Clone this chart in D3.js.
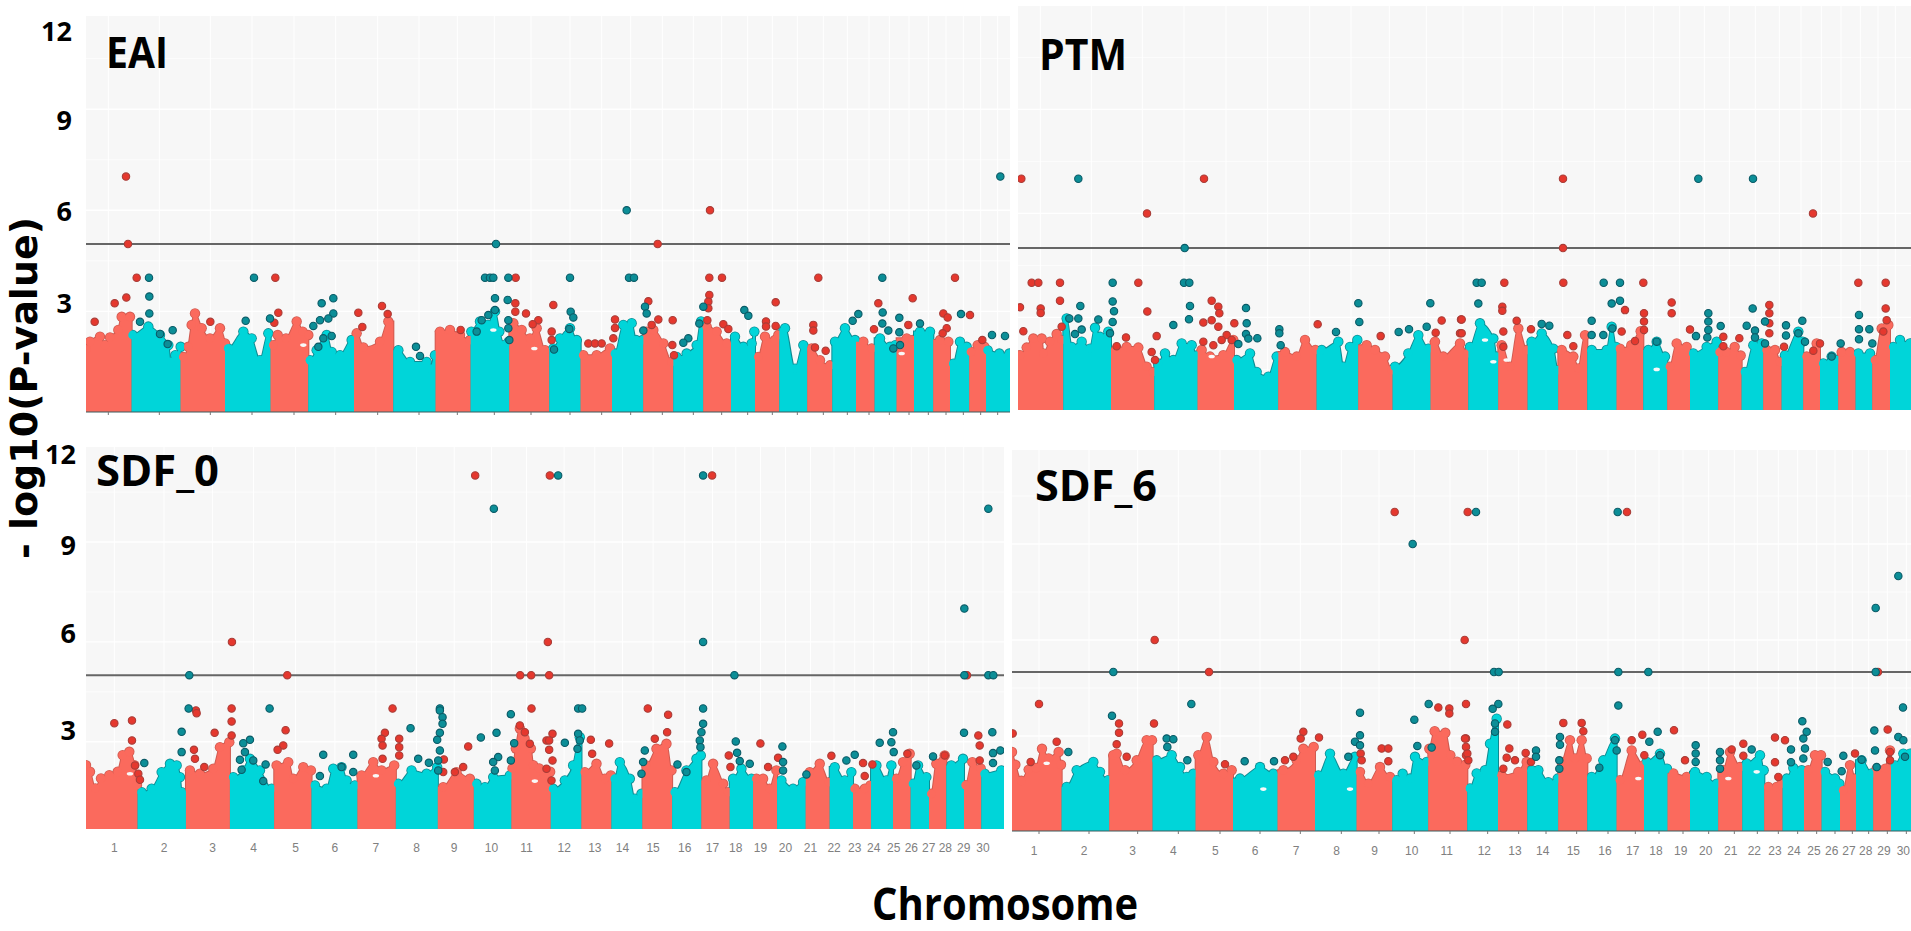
<!DOCTYPE html>
<html><head><meta charset="utf-8">
<script src="https://cdn.jsdelivr.net/npm/d3@7/dist/d3.min.js"></script>
<style>html,body{margin:0;padding:0;background:#fff;overflow:hidden}svg{display:block}</style>
</head><body><svg id="c" width="1911" height="931"></svg>
<script>
const chromLabels = d3.range(1,31).map(String);
const yTickLabels = ["3","6","9","12"];
const gridValues = [1.5,3,4.5,6,7.5,9,10.5,12];
const threshold = [5];

// ---------- EAI ----------
const eaiBounds = [0,137,284,417,554,667,804,922,1049,1154,1270,1390,1484,1578,1672,1762,1852,1935,2007,2080,2164,2239,2310,2366,2432,2484,2542,2592,2650,2700,2772];
const eaiTicks = [67,220,373,498,624,749,875,999,1114,1225,1335,1452,1547,1634,1729,1822,1907,1985,2059,2134,2212,2284,2349,2410,2469,2527,2580,2632,2684,2735];
const eaiProfile = [
[[0,1.87],[12,2.1],[42,2.25],[57,2.0],[72,2.23],[97,2.45],[107,2.84],[132,2.84]],
[[140,2.3],[187,2.55],[222,2.3],[247,2.0],[254,1.5],[268,1.7],[284,1.95]],
[[292,1.65],[307,1.95],[317,2.6],[327,2.94],[347,2.5],[372,2.2],[402,2.5],[417,2.05]],
[[427,1.9],[472,2.4],[497,2.2],[522,1.55],[547,2.35]],
[[562,2.0],[575,2.3],[600,2.2],[632,2.7],[650,2.4],[667,2.3]],
[[672,1.55],[692,1.85],[722,2.3],[737,1.8],[762,1.7],[797,2.15]],
[[812,2.35],[832,1.93],[882,2.1],[907,2.7]],
[[937,1.85],[972,1.5],[1022,1.5],[1032,1.3],[1047,1.7]],
[[1062,2.4],[1092,2.45],[1122,2.3],[1152,2.15]],
[[1156,2.4],[1182,2.7],[1205,2.6],[1227,3.0],[1240,2.4],[1255,2.0],[1268,2.1]],
[[1282,2.65],[1307,2.45],[1332,2.2],[1352,2.5],[1377,1.85]],
[[1402,1.9],[1422,2.2],[1452,2.5],[1472,2.15]],
[[1492,1.7],[1532,1.7],[1572,1.9]],
[[1587,1.75],[1612,2.6],[1637,2.65],[1650,2.15],[1670,2.15]],
[[1682,2.4],[1702,2.45],[1732,2.05],[1757,1.5]],
[[1772,1.65],[1802,1.75],[1832,2.0],[1845,2.7]],
[[1862,2.55],[1892,2.4],[1922,2.05]],
[[1947,2.25],[1972,1.95],[1997,2.05],[2005,2.4]],
[[2017,1.65],[2037,2.25],[2067,2.15],[2077,2.3]],
[[2097,2.5],[2127,1.3],[2152,2.0]],
[[2177,1.9],[2202,1.55],[2232,1.4]],
[[2247,2.1],[2277,2.5],[2307,2.15]],
[[2332,2.1],[2357,1.9]],
[[2382,2.2],[2412,1.95],[2428,2.0]],
[[2462,2.2],[2480,2.15]],
[[2502,2.4],[2532,2.4]],
[[2562,2.15],[2587,2.1]],
[[2602,1.45],[2622,2.1],[2642,1.95]],
[[2655,1.8],[2675,2.0],[2695,1.95]],
[[2705,1.85],[2740,1.75],[2770,1.75]]];
const eaiRed = [[120,7],[126,5],[1872,6],[1715,5],[152,4],[568,4],[1289,4],[1870,4],[1908,4],[2197,4],[2607,4],
[26,2.69],[86,3.24],[121,3.41],[373,2.69],[577,2.96],[565,2.66],[817,2.96],[829,2.54],[888,3.16],[905,2.92],
[1124,2.45],[1288,3.24],[1288,2.99],[1320,2.94],[1357,2.74],[1340,2.62],[1402,3.19],[1397,2.4],[1397,2.15],[1507,2.05],[1527,2.05],[1547,2.05],[1587,2.76],[1587,2.51],[1582,2.2],[1687,3.3],[1717,2.76],[1697,2.6],[1760,2.74],[1759,2.0],[1764,1.7],[1870,3.49],[1867,3.29],[1867,3.09],[1864,2.74],[1912,2.62],[1927,2.48],[2069,3.27],[2040,2.7],[2040,2.55],[2069,2.57],[2182,2.6],[2182,2.43],[2187,1.93],[2219,1.83],[2480,3.39],[2377,3.24],[2467,2.6],[2364,2.47],[2572,2.94],[2585,2.82],[2582,2.5],[2570,2.35],[2652,2.89],[2689,2.15]];
const eaiTeal = [[2743,7],[1622,6],[1230,5],[189,4],[504,4],[1197,4],[1212,4],[1222,4],[1267,4],[1452,4],[1629,4],[1644,4],[2389,4],
[190,3.44],[190,2.94],[162,2.69],[260,2.44],[245,2.03],[222,2.33],[479,2.72],[552,2.79],[707,3.24],[742,3.39],[742,2.94],[727,2.79],[702,2.74],[682,2.57],[737,2.27],[712,2.2],[697,1.95],[990,1.95],[1002,1.68],
[1227,3.39],[1265,3.34],[1227,3.04],[1207,2.89],[1187,2.74],[1172,2.4],[1267,2.74],[1267,2.5],[1270,2.15],[1454,2.99],[1462,2.82],[1450,2.48],[1404,1.87],[1677,3.14],[1682,2.94],[1672,2.43],[1807,2.2],[1792,2.07],[1840,2.64],[1852,3.14],[1975,3.04],[1987,2.87],[2317,2.92],[2300,2.72],[2390,2.97],[2389,2.64],[2407,2.43],[2440,2.81],[2440,2.38],[2502,2.64],[2625,2.92],[2442,2.0],[2422,1.9],[2718,2.3],[2757,2.27]];
const eaiGaps = [[652,2.0],[1222,2.45],[1345,1.9],[2447,1.75]];

// ---------- PTM ----------
const ptmBounds = [0,136,279,409,539,648,781,896,1021,1124,1238,1351,1441,1529,1621,1708,1796,1876,1948,2016,2101,2171,2236,2291,2356,2406,2461,2513,2563,2616,2679];
const ptmProfile = [
[[6,1.91],[26,2.13],[46,2.39],[71,2.39],[76,1.96],[96,2.3],[116,2.52],[131,2.35]],
[[146,2.97],[161,2.15],[191,2.3],[216,2.1],[231,2.7],[246,2.44],[271,2.59]],
[[296,2.1],[326,2.15],[361,2.13],[386,1.58],[405,1.43]],
[[421,1.67],[441,1.96],[466,1.77],[491,2.25],[521,2.2],[536,1.9]],
[[551,2.06],[576,1.87],[616,1.91],[646,2.35]],
[[656,1.77],[696,1.96],[716,1.43],[751,1.29],[776,1.87]],
[[801,2.0],[836,1.87],[861,2.35],[892,2.06]],
[[911,2.06],[961,2.3],[976,1.58],[996,2.15],[1018,2.35]],
[[1046,2.2],[1071,2.06],[1101,1.87],[1121,1.48]],
[[1131,1.58],[1171,1.96],[1201,2.49],[1231,2.1]],
[[1251,2.3],[1276,1.87],[1326,2.25],[1349,1.96]],
[[1356,2.15],[1386,2.83],[1426,2.39],[1436,1.87]],
[[1451,2.2],[1476,1.58],[1501,2.68],[1526,2.06]],
[[1541,2.3],[1571,2.54],[1606,2.1],[1619,1.48]],
[[1631,2.06],[1666,1.87],[1681,1.53],[1701,2.49]],
[[1721,2.06],[1766,2.06],[1781,2.73],[1794,2.15]],
[[1806,2.1],[1840,2.2],[1868,2.6]],
[[1891,2.06],[1916,2.3],[1941,1.87]],
[[1956,1.58],[1976,2.25],[2006,2.15]],
[[2026,1.96],[2066,2.15],[2096,2.3]],
[[2105,2.0],[2125,2.0],[2150,2.15],[2168,1.9]],
[[2181,1.43],[2206,2.2],[2231,2.25]],
[[2246,2.06],[2271,2.06],[2286,1.72]],
[[2301,1.91],[2341,2.59],[2354,2.3]],
[[2366,1.87],[2396,2.25]],
[[2416,1.67],[2441,1.87],[2456,1.77]],
[[2471,2.0],[2496,2.0]],
[[2521,1.96],[2556,1.96]],
[[2571,1.77],[2591,2.68],[2611,2.78]],
[[2626,2.15],[2646,2.35],[2676,2.25]]];
const ptmRed = [[10,7],[558,7],[1635,7],[387,6],[2385,6],[1635,5],[41,4],[61,4],[126,4],[361,4],[1459,4],[1636,4],[1876,4],[2521,4],[2603,4],
[6,3.29],[68,3.26],[68,3.13],[126,3.48],[16,2.6],[131,2.73],[388,3.17],[416,2.46],[324,2.42],[581,3.48],[601,3.31],[604,3.12],[556,2.85],[581,2.92],[601,2.73],[626,2.49],[556,2.3],[586,2.2],[611,2.35],[641,2.35],[649,2.83],[401,2.0],[411,1.77],[899,2.8],[1088,2.46],[1271,2.91],[1329,2.94],[1253,2.56],[1326,2.54],[296,2.17],
[1331,2.94],[1331,2.54],[1453,3.31],[1453,3.19],[1496,2.9],[1539,2.66],[1456,2.59],[1456,2.15],[1648,2.49],[1666,2.17],[1821,3.21],[1811,2.59],[1851,2.32],[1878,3.12],[1878,2.88],[1878,2.64],[1961,3.43],[1961,3.12],[2016,2.65],[2116,2.44],[2116,2.17],[2164,2.4],[2254,3.36],[2254,3.12],[2254,2.83],[2254,2.54],[2298,2.15],[2406,2.25],[2386,2.04],[2603,3.26],[2606,2.92],[2596,2.59]];
const ptmTeal = [[181,7],[2041,7],[2205,7],[500,5],[284,4],[498,4],[514,4],[1376,4],[1391,4],[1757,4],[1806,4],
[187,3.33],[181,2.97],[154,2.97],[191,2.65],[171,2.52],[241,2.94],[284,3.46],[288,3.18],[284,2.87],[276,2.54],[466,2.78],[516,3.33],[513,2.95],[684,3.27],[686,2.83],[684,2.52],[691,2.39],[718,2.4],[661,2.23],[784,2.66],[784,2.54],[788,2.2],[954,2.58],[1021,3.41],[1024,2.87],[1142,2.58],[1173,2.66],[1237,3.41],[1226,2.73],
[1381,3.4],[1571,2.81],[1594,2.76],[1721,2.9],[1721,2.49],[1756,2.49],[1783,2.68],[1781,3.4],[1806,3.48],[1916,2.3],[2071,3.12],[2071,2.88],[2071,2.64],[2068,2.42],[2034,2.46],[2108,2.75],[2204,3.26],[2186,2.76],[2211,2.62],[2211,2.42],[2241,2.88],[2241,2.25],[2304,2.77],[2304,2.48],[2353,2.9],[2341,2.54],[2361,2.3],[2468,2.25],[2441,1.87],[2523,3.07],[2523,2.66],[2523,2.37],[2554,2.66],[2563,2.25]];
const ptmGaps = [[1426,1.72],[1401,2.35],[1466,1.77],[581,1.87],[1916,1.5]];

// ---------- SDF_0 ----------
const sdf0Bounds = [0,155,300,432,565,677,815,930,1056,1164,1277,1395,1487,1577,1670,1759,1847,1932,2002,2074,2160,2232,2302,2356,2422,2475,2530,2582,2635,2687,2755];
const sdf0LabelPos = [85,234,380,503,629,747,870,992,1105,1217,1322,1435,1527,1610,1702,1797,1880,1950,2024,2099,2174,2245,2307,2364,2424,2477,2529,2579,2634,2692];
const sdf0Profile = [
[[0,2.3],[12,2.1],[28,1.6],[45,1.9],[70,2.0],[95,2.1],[110,2.6],[130,2.7],[145,2.3],[153,1.7]],
[[167,1.49],[197,1.59],[227,2.09],[252,2.34],[272,2.29],[282,1.94],[287,1.49]],
[[312,2.14],[342,2.04],[382,2.19],[402,2.84],[430,2.99]],
[[442,1.94],[472,2.14],[492,2.49],[522,2.14],[557,1.59]],
[[572,2.29],[607,2.39],[622,1.89],[652,2.24],[675,2.14]],
[[687,1.69],[722,1.59],[742,2.19],[767,2.24],[782,1.84],[807,1.69]],
[[827,1.99],[862,2.39],[887,2.14],[925,2.29]],
[[937,1.74],[977,2.14],[1022,2.04],[1054,2.24]],
[[1072,1.64],[1112,2.09],[1152,1.89]],
[[1172,1.74],[1197,1.64],[1222,1.94],[1272,1.99]],
[[1280,2.2],[1290,2.8],[1302,3.4],[1316,3.1],[1335,2.8],[1342,2.3],[1360,2.2],[1375,2.0],[1393,2.1]],
[[1402,1.59],[1437,1.84],[1462,2.29],[1482,3.14]],
[[1497,2.09],[1532,2.34],[1557,1.89],[1575,1.99]],
[[1587,1.89],[1602,2.39],[1632,1.89],[1647,1.29],[1667,1.44]],
[[1682,2.29],[1712,2.79],[1742,2.94],[1757,2.14]],
[[1767,1.49],[1802,2.14],[1832,2.49],[1845,2.59]],
[[1862,1.84],[1882,2.34],[1912,1.74],[1927,1.49]],
[[1942,1.89],[1967,2.19],[1997,1.89]],
[[2012,1.89],[2032,1.89],[2052,1.59],[2072,2.14]],
[[2087,1.84],[2122,1.59],[2152,1.79]],
[[2172,2.09],[2202,2.34],[2230,1.79]],
[[2247,2.24],[2277,1.84],[2297,2.09]],
[[2307,1.59],[2337,1.59],[2354,1.69]],
[[2372,2.29],[2402,1.84],[2417,2.29]],
[[2432,1.89],[2452,2.39],[2472,2.64]],
[[2482,1.74],[2497,2.29],[2522,1.94]],
[[2537,1.44],[2552,2.34],[2577,2.59]],
[[2597,2.29],[2632,2.49]],
[[2640,1.7],[2660,2.39],[2685,2.2]],
[[2697,2.04],[2747,2.14]]];
const sdf0Red = [[1168,11],[1392,11],[1879,11],[438,6],[1386,6],[604,5],[1303,5],[1336,5],[1390,5],[2644,5],[330,3.94],[437,4],[920,4],[1337,4],[1686,4],[1747,3.81],
[85,3.56],[138,3.64],[138,3.04],[147,2.29],[157,2.04],[162,1.86],[332,3.86],[437,3.61],[437,3.19],[386,3.27],[355,2.24],[324,2.76],[327,2.49],[599,3.35],[592,2.89],[575,2.76],[897,3.27],[887,3.09],[890,2.89],[890,2.49],[940,3.09],[940,2.84],[940,2.59],[1147,2.86],[1132,2.24],[1107,2.09],[1074,2.47],[1072,2.09],[1302,3.49],[1317,3.29],[1332,2.94],[1382,3.04],
[1400,3.24],[1390,3.04],[1390,2.76],[1400,2.44],[1382,2.19],[1397,1.84],[1515,3.06],[1519,2.64],[1570,2.95],[1707,3.09],[1744,3.29],[1929,2.59],[1934,2.24],[2024,2.95],[2047,2.24],[2077,2.52],[2237,2.58],[2332,2.36],[2337,1.97],[2360,2.32],[2465,2.64],[2577,2.59],[2678,3.19],[2682,2.89],[2682,2.44]];
const sdf0Teal = [[1417,11],[1852,11],[1224,10],[2708,10],[2636,7],[1852,6],[310,5],[1946,5],[2636,5],[2708,5],[2723,5],[308,4],[551,4],[1062,4],[1477,4],[1489,4],[1852,4],
[287,3.3],[287,2.69],[175,2.36],[492,3.06],[472,2.96],[477,2.69],[502,2.44],[462,2.46],[467,2.16],[539,2.32],[532,1.82],[712,2.61],[802,2.61],[702,1.97],[802,2.09],[767,2.24],[974,3.41],[997,2.49],[1029,2.37],[1062,3.94],[1070,3.74],[1070,3.54],[1062,3.27],[1054,3.06],[1062,2.74],[1057,2.44],[1057,2.14],[1185,3.13],[1232,3.27],[1237,2.54],[1222,2.39],[1227,2.14],[1275,3.83],[1285,2.96],[1275,2.44],
[1437,2.97],[1477,3.24],[1482,3.04],[1475,2.79],[1677,2.74],[1672,2.39],[1667,2.04],[1775,2.32],[1802,2.09],[1852,3.54],[1847,3.29],[1842,3.04],[1844,2.84],[1950,3.01],[1954,2.67],[1962,2.42],[1992,2.34],[2090,2.86],[2092,2.39],[2092,2.14],[2162,2.02],[2282,2.44],[2307,2.61],[2382,2.97],[2422,3.29],[2417,2.99],[2424,2.69],[2492,2.29],[2542,2.56],[2635,3.27],[2720,3.29],[2722,2.66],[2744,2.74],[2722,2.36]];
const sdf0Gaps = [[132,2.04],[1347,1.82],[870,1.98]];

// ---------- SDF_6 ----------
const sdf6Bounds = [0,149,292,422,551,663,797,909,1034,1141,1249,1366,1458,1546,1639,1726,1814,1896,1967,2034,2119,2191,2257,2312,2376,2429,2484,2532,2584,2637,2697];
const sdf6LabelPos = [66,216,362,484,610,729,852,974,1088,1199,1304,1417,1509,1592,1684,1779,1862,1932,2006,2081,2156,2227,2289,2346,2406,2459,2511,2561,2616,2674];
const sdf6Ticks = [81,231,377,499,624,744,865,988,1101,1207,1314,1427,1520,1602,1694,1788,1870,1941,2013,2090,2167,2236,2299,2357,2414,2469,2521,2570,2626,2683];
const sdf6Profile = [
[[0,2.5],[10,2.1],[28,1.6],[50,1.95],[72,2.0],[90,2.6],[110,2.3],[140,2.5],[147,2.1]],
[[164,1.41],[194,1.93],[244,2.19],[264,1.88],[289,1.62]],
[[304,2.4],[314,2.45],[339,1.93],[374,2.24],[404,2.87],[420,2.87]],
[[434,2.24],[479,2.4],[504,2.03],[524,1.72],[544,1.82]],
[[559,2.4],[584,2.97],[604,2.19],[634,1.82],[659,1.93]],
[[684,1.67],[744,2.03],[784,1.82]],
[[814,1.93],[854,2.24],[874,2.6],[905,2.66]],
[[919,1.77],[954,2.45],[994,1.82],[1029,2.35]],
[[1044,1.88],[1069,1.51],[1104,2.03],[1134,1.72]],
[[1154,1.62],[1172,1.82],[1194,1.67],[1209,2.35],[1244,2.19]],
[[1252,2.6],[1268,3.15],[1300,3.1],[1315,2.4],[1335,2.2],[1360,2.1]],
[[1374,1.36],[1394,1.83],[1419,1.93],[1434,2.76],[1454,3.54]],
[[1469,1.77],[1519,1.88],[1544,2.19]],
[[1559,1.93],[1579,1.93],[1609,1.56],[1637,1.67]],
[[1649,2.19],[1674,2.87],[1689,2.3],[1709,2.87],[1724,2.3]],
[[1739,1.72],[1774,2.24],[1809,2.92]],
[[1824,1.62],[1859,2.55],[1894,2.08]],
[[1904,2.19],[1944,2.45],[1965,1.98]],
[[1984,1.83],[2024,1.72]],
[[2049,1.88],[2084,1.72],[2114,1.51]],
[[2134,1.93],[2154,2.5],[2184,2.03]],
[[2204,2.14],[2244,2.4],[2255,1.93]],
[[2269,1.41],[2294,1.41],[2309,1.51]],
[[2324,1.67],[2344,2.0],[2369,1.93]],
[[2389,1.93],[2409,2.4],[2427,2.4]],
[[2439,1.88],[2469,1.67],[2482,1.51]],
[[2494,1.3],[2514,2.09],[2529,1.67]],
[[2549,2.24],[2579,1.83]],
[[2594,1.98],[2620,1.98],[2634,2.55]],
[[2649,2.08],[2674,2.45],[2694,2.45]]];
const sdf6Red = [[1148,10],[1367,10],[1845,10],[428,6],[1358,6],[591,5],[2598,5],[81,4],[1362,4],
[2,3.08],[134,2.82],[56,2.19],[321,3.39],[321,3.1],[314,2.74],[344,2.35],[426,3.39],[639,2.12],[874,3.13],[866,2.92],[921,2.95],[844,2.35],[819,2.24],[1046,2.45],[1049,2.24],[1109,2.61],[1129,2.61],[1129,2.21],[1279,3.89],[1312,3.86],[1312,3.7],[1362,2.92],[1362,2.66],[1362,2.4],
[1359,2.92],[1366,2.45],[1369,2.24],[1486,3.36],[1492,2.61],[1484,2.32],[1509,2.24],[1474,1.98],[1541,2.47],[1557,2.19],[1654,3.41],[1709,3.41],[1714,3.15],[1859,2.87],[1891,3.04],[1897,2.4],[1986,3.18],[2019,2.24],[2159,2.58],[2194,2.76],[2194,2.38],[2289,2.95],[2319,2.87],[2289,2.18],[2299,1.72],[2529,2.45],[2627,3.2],[2634,2.5],[2634,2.24]];
const sdf6Teal = [[1392,10],[1817,10],[1202,9],[2659,8],[2591,7],[304,5],[1446,5],[1460,5],[1819,5],[1909,5],[2591,5],[538,4],[1250,4],[1459,4],[1442,3.85],[1819,3.95],[2673,3.89],
[169,2.5],[300,3.63],[464,2.92],[484,2.9],[466,2.66],[526,2.24],[698,2.21],[786,2.21],[1044,3.73],[1044,3.02],[1029,2.82],[1044,2.71],[1009,2.35],[1207,3.51],[1216,2.69],[1259,2.64],
[1937,3.13],[1912,2.82],[1944,2.4],[1644,2.97],[1644,2.73],[1642,2.24],[1642,1.98],[1572,2.55],[1572,2.35],[2051,2.71],[2051,2.45],[2051,2.19],[2124,2.5],[2124,2.24],[2124,1.98],[2219,2.58],[2371,3.46],[2384,3.13],[2374,2.92],[2379,2.61],[2374,2.3],[2337,2.58],[2337,2.18],[2494,2.38],[2447,2.19],[2489,1.9],[2549,2.26],[2587,3.17],[2589,2.55],[2594,2.03],[2659,2.97],[2674,2.87],[2679,2.35],[1762,2.01],[1809,2.87],[1814,2.55],[1449,3.39],[1449,3.13]];
const sdf6Gaps = [[754,1.34],[1014,1.34],[2234,1.88],[1879,1.67],[2149,1.67],[104,2.15]];

// ---------- layout ----------
const panels = [
 {name:"EAI", bounds:eaiBounds, profile:eaiProfile, red:eaiRed, teal:eaiTeal, gaps:eaiGaps, ticks:eaiTicks, grid:eaiTicks, labelPos:null,
  x0:86,x1:1010,top:16,bottom:412,y0:412.5,y12:8.1, nameX:106,nameY:68, tickY:[313,221,130,41]},
 {name:"PTM", bounds:ptmBounds, profile:ptmProfile, red:ptmRed, teal:ptmTeal, gaps:ptmGaps, ticks:null, grid:eaiTicks, labelPos:null,
  x0:1018,x1:1911,top:5,bottom:410,y0:421.4,y12:5.4, nameX:1039,nameY:70, tickY:null},
 {name:"SDF_0", bounds:sdf0Bounds, profile:sdf0Profile, red:sdf0Red, teal:sdf0Teal, gaps:sdf0Gaps, ticks:null, grid:sdf0LabelPos, labelPos:sdf0LabelPos,
  x0:86,x1:1004,top:447,bottom:829,y0:841.7,y12:442.1, nameX:96,nameY:486, tickY:[740,643,555,464]},
 {name:"SDF_6", bounds:sdf6Bounds, profile:sdf6Profile, red:sdf6Red, teal:sdf6Teal, gaps:sdf6Gaps, ticks:sdf6Ticks, grid:sdf6Ticks, labelPos:sdf6LabelPos,
  x0:1012,x1:1911,top:450,bottom:831,y0:832,y12:448, nameX:1035,nameY:501, tickY:null}
];
const colors = {
 red:{fill:"#fb6a5d",edge:"#cf5a50",dot:"#e5382e",dotEdge:"#a83d38"},
 teal:{fill:"#00d5d9",edge:"#0e8b92",dot:"#0c8e97",dotEdge:"#0a5a66"}
};

const svg = d3.select("#c");
const defs = svg.append("defs");

panels.forEach((p,pi)=>{
  const len = p.bounds[p.bounds.length-1];
  const x = d3.scaleLinear().domain([0,len]).range([p.x0,p.x1]);
  const y = d3.scaleLinear().domain([0,12]).range([p.y0,p.y12]);
  const g = svg.append("g");
  defs.append("clipPath").attr("id","clip"+pi).append("rect")
    .attr("x",p.x0).attr("y",p.top).attr("width",p.x1-p.x0).attr("height",p.bottom-p.top);
  const plot = g.append("g").attr("clip-path",`url(#clip${pi})`);
  plot.append("rect").attr("x",p.x0).attr("y",p.top).attr("width",p.x1-p.x0).attr("height",p.bottom-p.top).attr("fill","#f7f7f7");
  plot.selectAll("line.gh").data(gridValues).join("line").attr("class","gh")
    .attr("x1",p.x0).attr("x2",p.x1).attr("y1",d=>y(d)).attr("y2",d=>y(d))
    .attr("stroke","#fff").attr("stroke-width",d=>d%3===0?1.4:0.7);
  plot.selectAll("line.gv").data(p.grid).join("line").attr("class","gv")
    .attr("y1",p.top).attr("y2",p.bottom).attr("x1",d=>x(d)).attr("x2",d=>x(d))
    .attr("stroke","#fff").attr("stroke-width",1);

  const area = d3.area().curve(d3.curveMonotoneX).x(d=>x(d[0])).y0(p.bottom).y1(d=>y(d[1]));
  const chr = p.profile.map((pts,i)=>{
    const a=p.bounds[i], b=p.bounds[i+1];
    const full=[[a,pts[0][1]],...pts,[b,pts[pts.length-1][1]]];
    return {i,pts,full,col:i%2===0?colors.red:colors.teal};
  });
  [true,false].forEach(isEdge=>{
    chr.forEach(c=>{
      plot.append("path").datum(c.full).attr("d",area)
        .attr("fill",isEdge?c.col.edge:c.col.fill)
        .attr("stroke",isEdge?c.col.edge:"none").attr("stroke-width",isEdge?2:0);
      plot.append("g").selectAll("circle").data(c.pts).join("circle")
        .attr("cx",d=>x(d[0])).attr("cy",d=>y(d[1]))
        .attr("r",isEdge?5.2:4.4).attr("fill",isEdge?c.col.edge:c.col.fill);
    });
  });
  // small holes left between points in the dense band
  plot.append("g").selectAll("ellipse").data(p.gaps).join("ellipse")
    .attr("cx",d=>x(d[0])).attr("cy",d=>y(d[1])).attr("rx",3.2).attr("ry",1.8)
    .attr("fill","#f9f9f9");
  plot.selectAll("line.th").data(threshold).join("line").attr("class","th")
    .attr("x1",p.x0).attr("x2",p.x1).attr("y1",d=>y(d)).attr("y2",d=>y(d))
    .attr("stroke","#666").attr("stroke-width",2);
  [[p.red,colors.red],[p.teal,colors.teal]].forEach(([arr,col])=>{
    plot.append("g").selectAll("circle").data(arr).join("circle")
      .attr("cx",d=>x(d[0])).attr("cy",d=>y(d[1])).attr("r",3.7)
      .attr("fill",col.dot).attr("stroke",col.dotEdge).attr("stroke-width",1.1);
  });
  g.append("line").attr("x1",p.x0).attr("x2",p.x1).attr("y1",p.bottom).attr("y2",p.bottom)
    .attr("stroke",pi===0||pi===3?"#3c5a5c":"none").attr("stroke-width",1);
  if(p.ticks){
    g.selectAll("line.tk").data(p.ticks).join("line").attr("class","tk")
      .attr("x1",d=>x(d)).attr("x2",d=>x(d)).attr("y1",p.bottom).attr("y2",p.bottom+3)
      .attr("stroke","#777").attr("stroke-width",1);
  }
  if(p.labelPos){
    g.selectAll("text.xl").data(chromLabels).join("text").attr("class","xl")
      .attr("x",(d,i)=>x(p.labelPos[i])).attr("y",pi===2?852:855)
      .attr("text-anchor","middle").attr("font-family","'Liberation Sans',Arial,sans-serif")
      .attr("font-size",12).attr("fill","#808080").text(d=>d);
  }
  g.append("text").attr("x",p.nameX).attr("y",p.nameY)
    .attr("font-family","'Open Sans',sans-serif").attr("font-weight",700).attr("font-size",43).attr("fill","#000")
    .attr("textLength",{EAI:62,PTM:88,SDF_0:123,SDF_6:122}[p.name]).attr("lengthAdjust","spacingAndGlyphs").text(p.name);
  if(p.tickY){
    g.selectAll("text.yl").data(yTickLabels).join("text").attr("class","yl")
      .attr("x",pi===2?76:72).attr("y",(d,i)=>p.tickY[i]).attr("text-anchor","end")
      .attr("font-family","'Open Sans',sans-serif").attr("font-weight",700).attr("font-size",27).attr("fill","#000").text(d=>d);
  }
});

svg.append("text").attr("transform","translate(37,388) rotate(-90)").attr("text-anchor","middle")
  .attr("font-family","'DejaVu Sans',sans-serif").attr("font-weight",700).attr("font-size",38).attr("fill","#000")
  .text("- log10(P-value)");
svg.append("text").attr("transform","translate(872,920) scale(1,1.1)")
  .attr("font-family","'Open Sans',sans-serif").attr("font-weight",700).attr("font-size",40).attr("fill","#000")
  .text("Chromosome");
</script></body></html>
